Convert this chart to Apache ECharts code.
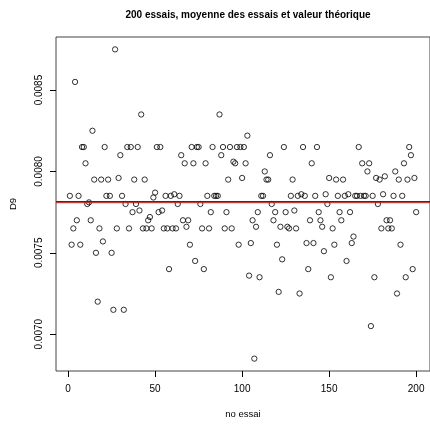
<!DOCTYPE html>
<html><head><meta charset="utf-8">
<script src="https://cdn.jsdelivr.net/npm/echarts@6/dist/echarts.min.js"></script>
<style>html,body{margin:0;padding:0;background:#fff}#c{width:430px;height:424px}</style>
</head><body><div id="c"></div>
<script>
const chartTitle = "200 essais, moyenne des essais et valeur théorique";
const xLabel = "no essai";
const yLabel = "D9";
const d9Values = [
0.00785,0.00755,0.00765,0.00855,0.0077,0.00785,0.00755,0.00815,0.00815,0.00805,
0.0078,0.00781,0.0077,0.00825,0.00795,0.0075,0.0072,0.00765,0.00795,0.00757,
0.00815,0.00785,0.00795,0.00785,0.0075,0.00715,0.00875,0.00765,0.00796,0.0081,
0.00785,0.00715,0.0078,0.00815,0.00765,0.00815,0.00775,0.00795,0.0078,0.00815,
0.00776,0.00835,0.00765,0.00795,0.00765,0.0077,0.00772,0.00765,0.00784,0.00787,
0.00815,0.00775,0.00815,0.00776,0.00765,0.00785,0.00765,0.0074,0.00785,0.00765,
0.00786,0.00765,0.0078,0.00785,0.0081,0.0077,0.00805,0.00766,0.0077,0.00755,
0.00815,0.00805,0.00745,0.00815,0.00815,0.0078,0.00765,0.0074,0.00805,0.00785,
0.00765,0.00775,0.00815,0.00785,0.00785,0.00785,0.00835,0.0081,0.00815,0.00765,
0.00775,0.00795,0.00815,0.00765,0.00806,0.00805,0.00815,0.00755,0.00815,0.00796,
0.00815,0.00805,0.00822,0.00736,0.00756,0.0077,0.00685,0.00766,0.00775,0.00735,
0.00785,0.00785,0.008,0.00795,0.00795,0.0081,0.0078,0.0077,0.00775,0.00755,
0.00726,0.00766,0.00746,0.00815,0.00775,0.00766,0.00765,0.00785,0.00795,0.00776,
0.00765,0.00785,0.00725,0.00786,0.00815,0.00785,0.00756,0.0074,0.0077,0.00805,
0.00756,0.00785,0.00815,0.00775,0.0077,0.00766,0.00751,0.00786,0.0078,0.00796,
0.00735,0.00765,0.00755,0.00795,0.00785,0.00775,0.0077,0.00795,0.00785,0.00745,
0.00786,0.00775,0.00756,0.0076,0.00785,0.00785,0.00815,0.00785,0.00805,0.00785,
0.00785,0.008,0.00805,0.00705,0.00785,0.00735,0.00796,0.0078,0.00795,0.00765,
0.00786,0.00797,0.0077,0.00765,0.0077,0.00765,0.00785,0.008,0.00725,0.00795,
0.00755,0.00785,0.00805,0.00735,0.00795,0.00815,0.0081,0.0074,0.00796,0.00775
];
const meanValue = 0.007815;
const theoreticalValue = 0.007808;
const xTicks = [0, 50, 100, 150, 200];
const yTicks = [0.0070, 0.0075, 0.0080, 0.0085];

const points = d9Values.map((v, i) => [i + 1, v]);
const n = d9Values.length;
const xPad = 0.04 * (n - 1);
const xMin = 1 - xPad, xMax = n + xPad;
const yMinD = Math.min(...d9Values), yMaxD = Math.max(...d9Values);
const yPad = 0.04 * (yMaxD - yMinD);
const font = "'Liberation Sans', Arial, Helvetica, sans-serif";

const chart = echarts.init(document.getElementById('c'), null, {renderer: 'canvas'});
chart.setOption({
  animation: false,
  backgroundColor: '#fff',
  title: {
    text: chartTitle, left: 243, top: 5, textAlign: 'center',
    textStyle: {fontSize: 10, fontWeight: 'bold', color: '#000', fontFamily: font}
  },
  grid: {left: 56, top: 37, right: -2, bottom: 48, show: true, borderColor: '#444', borderWidth: 1, containLabel: false},
  xAxis: {
    type: 'value', min: xMin, max: xMax,
    name: xLabel, nameLocation: 'middle', nameGap: 38,
    nameTextStyle: {fontSize: 9.5, color: '#000', fontFamily: font},
    axisLine: {show: false, onZero: false},
    axisTick: {show: true, inside: false, length: 6, customValues: xTicks, lineStyle: {color: '#000'}},
    axisLabel: {customValues: xTicks, fontSize: 10, color: '#000', margin: 13, fontFamily: font},
    splitLine: {show: false}
  },
  yAxis: {
    type: 'value', min: yMinD - yPad, max: yMaxD + yPad,
    name: yLabel, nameLocation: 'middle', nameGap: 38, nameRotate: 90,
    nameTextStyle: {fontSize: 9.5, color: '#000', fontFamily: font},
    axisLine: {show: false, onZero: false},
    axisTick: {show: true, inside: false, length: 6, customValues: yTicks, lineStyle: {color: '#000'}},
    axisLabel: {customValues: yTicks, rotate: 90, fontSize: 10, color: '#000', margin: 12, fontFamily: font,
      formatter: v => v.toFixed(4)},
    splitLine: {show: false}
  },
  series: [{
    type: 'scatter', data: points, symbol: 'circle', symbolSize: 5.3, z: 3,
    itemStyle: {color: 'rgba(0,0,0,0)', borderColor: '#000', borderWidth: 1}
  }, {
    type: 'line', data: [[xMin, meanValue], [xMax, meanValue]], symbol: 'none', silent: true, z: 4,
    lineStyle: {color: '#333', width: 1.2}
  }, {
    type: 'line', data: [[xMin, theoreticalValue], [xMax, theoreticalValue]], symbol: 'none', silent: true, z: 5,
    lineStyle: {color: '#ff0000', width: 1}
  }]
});
</script></body></html>
